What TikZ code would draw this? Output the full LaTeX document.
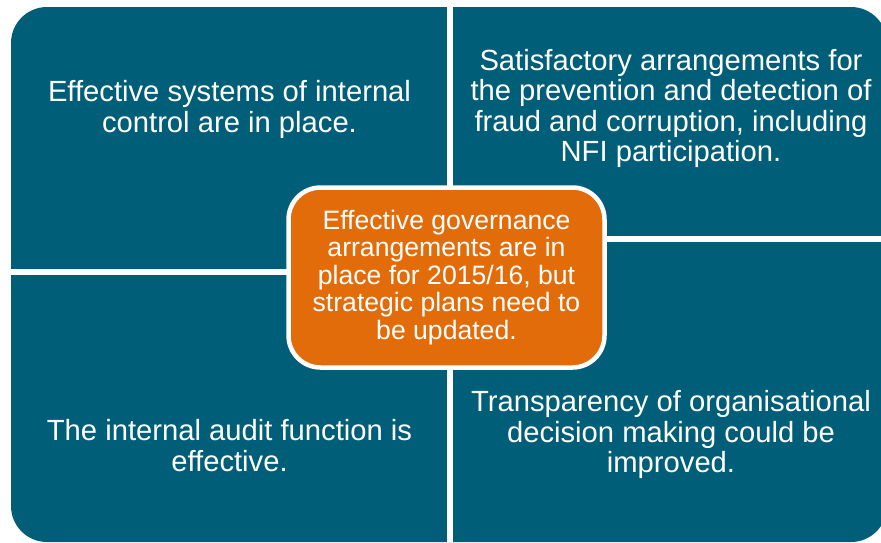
\documentclass[tikz,border=0pt]{standalone}
\usepackage{fontspec}
\setmainfont{Liberation Sans}
\definecolor{panel}{HTML}{005E78}
\definecolor{hubfill}{HTML}{E36C0A}
\begin{document}
\begin{tikzpicture}[x=1pt,y=-1pt,
  paneltext/.style={text=white,align=center,inner sep=0pt,
    font=\fontsize{29.2}{30.4}\selectfont},
  hub/.style={draw=white,line width=4.5pt,fill=hubfill,rounded corners=32pt,
    minimum width=316pt,minimum height=180pt,inner sep=0pt,
    text=white,align=center,font=\fontsize{26.6}{27.6}\selectfont},
  gap/.style={fill=white}]
\useasboundingbox (0,0) rectangle (881,542);
% four panels as one rounded block, cut apart by white gaps
\begin{scope}
  \clip (0,0) rectangle (881,542);
  \fill[panel,rounded corners=36pt] (11,7) rectangle (887,542);
\end{scope}
\fill[gap] (447,0) rectangle (453,542);
\fill[gap] (0,269) rectangle (450,275);
\fill[gap] (450,236) rectangle (881,242);
% panel texts
\node[paneltext] (q1) at (229.5,109.5) {Effective systems of internal\\control are in place.};
\node[paneltext] (q2) at (671,108.5) {Satisfactory arrangements for\\the prevention and detection of\\fraud and corruption, including\\NFI participation.};
\node[paneltext] (q3) at (229.5,445.5) {The internal audit function is\\effective.};
\node[paneltext] (q4) at (671,434.5) {Transparency of organisational\\decision making could be\\improved.};
% central summary
\node[hub] (core) at (446.5,277.5) {Effective governance\\arrangements are in\\place for 2015/16, but\\strategic plans need to\\be updated.};
\end{tikzpicture}
\end{document}
